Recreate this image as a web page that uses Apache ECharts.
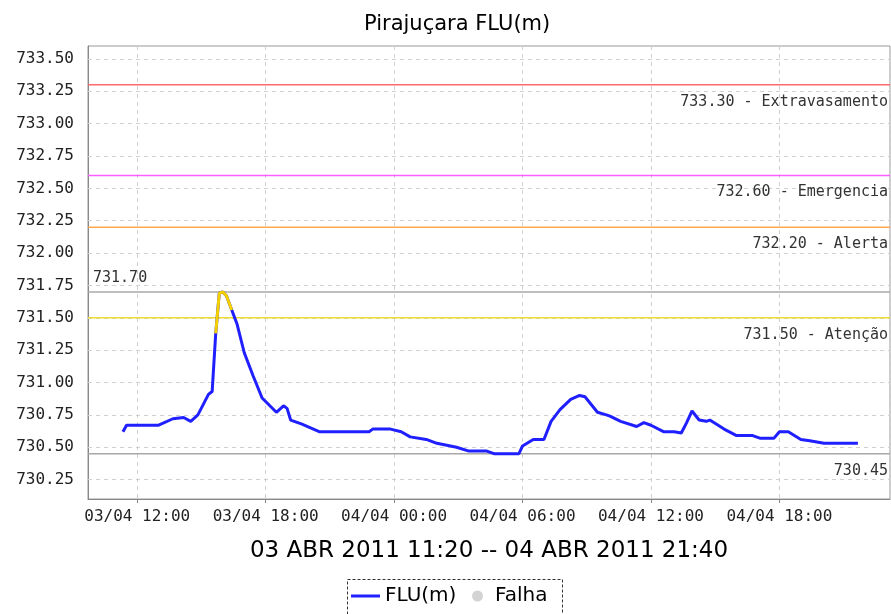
<!DOCTYPE html>
<html>
<head>
<meta charset="utf-8">
<script src="https://cdn.jsdelivr.net/npm/echarts@6/dist/echarts.min.js"></script>
<style>
  html, body { margin: 0; padding: 0; background: #fff; }
  #main { width: 891px; height: 614px; }
</style>
</head>
<body>
<div id="main"></div>
<script>
// leituras do nivel (FLU) - Pirajucara
var times = [
    '2011-04-03 11:20', '2011-04-03 11:30', '2011-04-03 13:00', '2011-04-03 13:40', '2011-04-03 14:10',
    '2011-04-03 14:30', '2011-04-03 14:50', '2011-04-03 15:20', '2011-04-03 15:30', '2011-04-03 15:40',
    '2011-04-03 15:50', '2011-04-03 16:00', '2011-04-03 16:10', '2011-04-03 16:25', '2011-04-03 16:40',
    '2011-04-03 17:00', '2011-04-03 17:25', '2011-04-03 17:50', '2011-04-03 18:30', '2011-04-03 18:50',
    '2011-04-03 19:00', '2011-04-03 19:10', '2011-04-03 19:40', '2011-04-03 20:30', '2011-04-03 21:00',
    '2011-04-03 22:50', '2011-04-03 23:00', '2011-04-03 23:50', '2011-04-04 00:20', '2011-04-04 00:45',
    '2011-04-04 01:30', '2011-04-04 02:00', '2011-04-04 02:55', '2011-04-04 03:30', '2011-04-04 04:20',
    '2011-04-04 04:40', '2011-04-04 05:50', '2011-04-04 06:00', '2011-04-04 06:30', '2011-04-04 07:00',
    '2011-04-04 07:20', '2011-04-04 07:45', '2011-04-04 08:15', '2011-04-04 08:40', '2011-04-04 08:55',
    '2011-04-04 09:30', '2011-04-04 09:55', '2011-04-04 10:05', '2011-04-04 10:35', '2011-04-04 11:20',
    '2011-04-04 11:40', '2011-04-04 12:00', '2011-04-04 12:35', '2011-04-04 13:05', '2011-04-04 13:25',
    '2011-04-04 13:40', '2011-04-04 13:55', '2011-04-04 14:15', '2011-04-04 14:35', '2011-04-04 14:45',
    '2011-04-04 15:25', '2011-04-04 16:00', '2011-04-04 16:45', '2011-04-04 17:05', '2011-04-04 17:45',
    '2011-04-04 18:00', '2011-04-04 18:25', '2011-04-04 19:00', '2011-04-04 19:25', '2011-04-04 20:05',
    '2011-04-04 21:40'
];
var levels = [
    730.62, 730.67, 730.67, 730.72, 730.73,
    730.70, 730.75, 730.91, 730.93, 731.38,
    731.69, 731.70, 731.67, 731.56, 731.45,
    731.23, 731.05, 730.88, 730.77, 730.82,
    730.80, 730.71, 730.68, 730.62, 730.62,
    730.62, 730.64, 730.64, 730.62, 730.58,
    730.56, 730.53, 730.50, 730.47, 730.47,
    730.45, 730.45, 730.51, 730.56, 730.56,
    730.70, 730.79, 730.87, 730.90, 730.89,
    730.77, 730.75, 730.74, 730.70, 730.66,
    730.69, 730.67, 730.62, 730.62, 730.61,
    730.69, 730.78, 730.71, 730.70, 730.71,
    730.64, 730.59, 730.59, 730.57, 730.57,
    730.62, 730.62, 730.56, 730.55, 730.53,
    730.53
];
// trecho acima da cota de atencao (amarelo)
var alertStart = 9, alertEnd = 13;

var thresholdValues = [733.30, 732.60, 732.20, 731.50];
var thresholdNames = ['Extravasamento', 'Emergencia', 'Alerta', 'Atenção'];
var thresholdColors = ['#ff6a6a', '#ff5cff', '#ffa850', '#eedc30'];
var maxLevel = 731.70, minLevel = 730.45;

var xMin = '2011-04-03 09:42', xMax = '2011-04-04 23:10';

var yTicks = [730.25, 730.50, 730.75, 731.00, 731.25, 731.50, 731.75,
    732.00, 732.25, 732.50, 732.75, 733.00, 733.25, 733.50];

var fluData = times.map(function (t, i) { return [t, levels[i]]; });
var alertData = fluData.slice(alertStart, alertEnd + 1);

// linha de referencia + texto (markPoint sem simbolo)
function refLine(value, color, text, atStart) {
    return {
        name: 'ref ' + value,
        type: 'line',
        data: [[xMin, value], [xMax, value]],
        symbol: 'none',
        silent: true,
        lineStyle: {color: color, width: 1.5},
        itemStyle: {color: color},
        z: 3,
        markPoint: {
            silent: true,
            symbol: 'circle',
            symbolSize: 0,
            label: {
                show: true,
                position: atStart ? 'right' : 'left',
                distance: atStart ? 5 : 2,
                offset: atStart ? [0, -14] : [0, 17],
                formatter: text,
                color: '#333',
                fontFamily: 'DejaVu Sans Mono',
                fontSize: 15
            },
            data: [{coord: [atStart ? xMin : xMax, value]}]
        }
    };
}

var series = [
    {
        name: 'grade',
        type: 'line',
        data: [],
        silent: true,
        z: 1,
        markLine: {
            silent: true,
            z: 1,
            symbol: 'none',
            label: {show: false},
            lineStyle: {color: '#d0d0d0', type: [4, 4], width: 1},
            data: yTicks.map(function (v) { return {yAxis: v}; })
        }
    }
];
thresholdValues.forEach(function (v, i) {
    series.push(refLine(v, thresholdColors[i], v.toFixed(2) + ' - ' + thresholdNames[i], false));
});
series.push(refLine(maxLevel, '#a8a8a8', maxLevel.toFixed(2), true));
series.push(refLine(minLevel, '#a8a8a8', minLevel.toFixed(2), false));
series.push({
    name: 'FLU(m)',
    type: 'line',
    data: fluData,
    symbol: 'none',
    lineStyle: {color: '#1f1fff', width: 3},
    itemStyle: {color: '#1f1fff'},
    z: 5
});
series.push({
    name: 'FLU(m) atencao',
    type: 'line',
    data: alertData,
    symbol: 'none',
    lineStyle: {color: '#f5d000', width: 3},
    itemStyle: {color: '#f5d000'},
    z: 6
});
series.push({
    name: 'Falha',
    type: 'scatter',
    data: [],
    itemStyle: {color: '#c8c8c8'}
});

var legendText = {fontFamily: 'DejaVu Sans', fontSize: 20, color: '#000'};

var myChart = echarts.init(document.getElementById('main'));
var option = {
    animation: false,
    title: {
        text: 'Pirajuçara FLU(m)',
        left: 359,
        top: 9,
        textStyle: {fontFamily: 'DejaVu Sans', fontSize: 21, fontWeight: 'normal', color: '#000'}
    },
    legend: [
        {
            left: 351,
            top: 586,
            padding: 0,
            textStyle: legendText,
            data: [{name: 'FLU(m)', icon: 'rect', itemStyle: {color: '#1f1fff'}}],
            itemWidth: 29,
            itemHeight: 3
        },
        {
            left: 472,
            top: 586,
            padding: 0,
            textStyle: Object.assign({padding: [0, 0, 0, 7]}, legendText),
            data: [{name: 'Falha', icon: 'circle', itemStyle: {color: '#c8c8c8'}}],
            itemWidth: 11,
            itemHeight: 11
        }
    ],
    graphic: [{
        type: 'rect',
        left: 345,
        top: 577,
        shape: {width: 215, height: 45},
        style: {fill: 'none', stroke: '#333', lineWidth: 1, lineDash: [3, 2]},
        silent: true
    }],
    grid: {
        left: 88,
        right: 1,
        top: 46,
        bottom: 115,
        show: true,
        borderColor: '#999',
        borderWidth: 1
    },
    xAxis: {
        type: 'time',
        min: xMin,
        max: xMax,
        splitNumber: 5,
        minInterval: 7 * 3600 * 1000,
        maxInterval: 7 * 3600 * 1000,
        name: '03 ABR 2011 11:20 -- 04 ABR 2011 21:40',
        nameLocation: 'middle',
        nameGap: 41,
        nameTextStyle: {fontFamily: 'DejaVu Sans', fontSize: 23, color: '#000'},
        axisLine: {lineStyle: {color: '#888'}},
        axisTick: {show: true, length: 4, lineStyle: {color: '#888'}},
        axisLabel: {
            formatter: '{dd}/{MM} {HH}:{mm}',
            fontFamily: 'DejaVu Sans Mono',
            fontSize: 16,
            color: '#222',
            margin: 10,
            showMinLabel: false,
            showMaxLabel: false
        },
        splitLine: {show: true, lineStyle: {color: '#d0d0d0', type: [4, 4]}}
    },
    yAxis: {
        type: 'value',
        min: 730.10,
        max: 733.60,
        interval: 0.05,
        axisLine: {show: true, lineStyle: {color: '#888'}},
        axisTick: {show: false},
        splitLine: {show: false},
        axisLabel: {
            fontFamily: 'DejaVu Sans Mono',
            fontSize: 16,
            color: '#222',
            margin: 14,
            formatter: function (v) {
                var q = v * 4;
                return Math.abs(q - Math.round(q)) < 1e-6 ? v.toFixed(2) : '';
            }
        }
    },
    series: series
};
myChart.setOption(option);
</script>
</body>
</html>
